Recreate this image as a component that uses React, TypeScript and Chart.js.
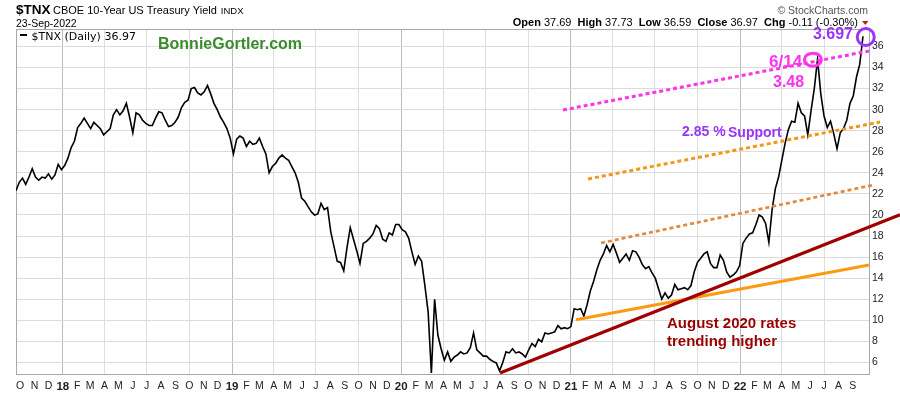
import { useEffect, useRef } from "react";
import { Chart, registerables } from "chart.js";

Chart.register(...registerables);

// ---------------- data ----------------
const seriesStart = "2017-09-22"; // weekly closes (x 10), every 7 days
const weeklyYield: number[] = [
  22.3, 23.1, 23.5, 22.9, 23.6, 24.4, 23.6, 23.3, 23.6, 23.5,
  23.9, 23.4, 23.8, 24.8, 24.3, 24.7, 25.4, 26.4, 27.0, 28.3,
  28.7, 29.2, 28.7, 28.2, 28.8, 28.5, 28.2, 27.6, 27.9, 28.2,
  29.5, 30.0, 29.5, 29.9, 30.6, 29.3, 27.8, 29.7, 29.5, 29.0,
  28.7, 28.5, 28.5, 29.2, 29.8, 29.7, 29.0, 28.4, 28.5, 28.8,
  29.3, 30.2, 30.7, 30.9, 32.0, 32.1, 31.6, 31.4, 31.7, 32.3,
  31.5, 30.6, 30.0, 29.3, 28.8, 28.2, 27.3, 25.8, 27.2, 27.5,
  27.3, 26.5, 27.0, 26.7, 26.8, 27.3, 26.5, 25.8, 24.0, 24.6,
  24.9, 25.4, 25.7, 25.4, 25.2, 24.6, 24.0, 23.1, 21.6, 21.3,
  20.8, 20.3, 20.0, 20.1, 21.1, 20.5, 20.7, 18.4, 17.0, 15.6,
  15.5, 14.7, 16.9, 18.8, 17.7, 16.6, 15.4, 17.3, 17.5, 17.8,
  18.2, 19.0, 18.7, 17.7, 17.5, 18.3, 18.1, 19.1, 19.1, 18.6,
  18.4, 17.8, 16.5, 15.3, 16.1, 15.6, 13.3, 10.8, 5.0, 12.0,
  8.6, 7.3, 6.2, 7.0, 6.1, 6.5, 6.7, 7.0, 6.8, 6.9,
  7.4, 8.8, 7.2, 6.9, 6.6, 6.6, 6.3, 6.1, 5.95, 5.2,
  6.0, 7.0, 6.9, 7.3, 6.9, 7.0, 6.8, 6.5, 7.2, 7.8,
  7.5, 8.2, 7.95, 8.8, 8.7, 8.8, 8.9, 9.5, 9.2, 9.3,
  9.2, 9.4, 11.1, 11.0, 11.1, 10.4, 11.5, 12.8, 13.7, 14.8,
  15.7, 16.3, 17.1, 16.5, 17.2, 16.4, 15.5, 15.9, 16.3, 15.7,
  16.6, 16.5, 16.0, 15.3, 14.9, 15.1, 14.5, 14.0, 13.0, 12.0,
  12.6, 12.1, 12.4, 13.4, 12.9, 13.0, 13.1, 12.9, 13.3, 14.6,
  15.5, 15.9, 16.3, 16.5, 15.4, 15.0, 15.0, 16.2, 15.7, 14.6,
  14.1, 14.3, 14.6, 15.2, 17.3, 17.8, 18.2, 18.3, 19.1, 20.0,
  19.8, 19.2, 17.4, 20.5, 22.5, 23.6, 25.2, 26.8, 28.1, 28.9,
  28.8, 30.6, 29.7, 29.4, 27.6, 29.9, 32.0, 34.8, 31.5, 29.4,
  28.3, 28.9, 27.7, 26.3, 27.8, 28.2, 29.0, 30.6, 31.3, 33.1,
  34.3, 36.97,
];

const axisStart = "2017-09-22";
const axisEnd = "2022-10-06";
const yMin = 4.9;
const yMax = 37.66;
const yTickValues = [6, 8, 10, 12, 14, 16, 18, 20, 22, 24, 26, 28, 30, 32, 34, 36];
const monthLetters = ["J", "F", "M", "A", "M", "J", "J", "A", "S", "O", "N", "D"];
const firstMonth: [number, number] = [2017, 9]; // Oct 2017 (0-based month)
const lastMonth: [number, number] = [2022, 8]; // Sep 2022

type Pt = [string, number];
const trendMagenta: Pt[] = [["2020-12-15", 29.97], ["2022-10-06", 35.57]];
const trendOrangeUpper: Pt[] = [["2021-02-07", 23.42], ["2022-10-30", 28.83]];
const trendOrangeLower: Pt[] = [["2021-03-07", 17.34], ["2022-10-15", 22.85]];
const trendDarkRed: Pt[] = [["2020-08-01", 4.99], ["2022-12-12", 20.03]];
const trendOrangeSolid: Pt[] = [["2021-01-12", 10.05], ["2022-10-06", 15.25]];
const ringPurple: Pt = ["2022-09-29", 36.9];
const ringMagenta: Pt = ["2022-06-07", 34.75];

const ohlcLabels = ["Open", "High", "Low", "Close", "Chg"];
const ohlcValues = ["37.69", "37.73", "36.59", "36.97", "-0.11 (-0.30%)"];

// ---------------- helpers ----------------
const FONT = "'Liberation Sans', Arial, sans-serif";
const DAY = 86400000;
function utc(s: string) {
  const [y, m, d] = s.split("-").map(Number);
  return Date.UTC(y, m - 1, d);
}
const origin = utc(seriesStart);
function dayOf(s: string) {
  return Math.round((utc(s) - origin) / DAY);
}
const toXY = (pts: Pt[]) => pts.map(([d, v]) => ({ x: dayOf(d), y: v }));

type MonthTick = { day: number; month: number; year: number };
const monthTicks: MonthTick[] = [];
{
  let [y, m] = firstMonth;
  while (y < lastMonth[0] || (y === lastMonth[0] && m <= lastMonth[1])) {
    monthTicks.push({ day: Math.round((Date.UTC(y, m, 1) - origin) / DAY), month: m, year: y });
    m++;
    if (m > 11) { m = 0; y++; }
  }
}
const tickByDay = new Map<number, MonthTick>(monthTicks.map((t) => [t.day, t]));

function textAt(ctx: CanvasRenderingContext2D, s: string, x: number, y: number, font: string, color: string, align: CanvasTextAlign = "left") {
  ctx.font = font;
  ctx.fillStyle = color;
  ctx.textAlign = align;
  ctx.textBaseline = "alphabetic";
  ctx.fillText(s, x, y);
}

const framePlugin = {
  id: "frame",
  beforeDatasetsDraw(chart: any) {
    const { ctx, chartArea: a } = chart;
    ctx.save();
    ctx.strokeStyle = "#a8a8a8";
    ctx.lineWidth = 1;
    ctx.strokeRect(Math.round(a.left) + 0.5, Math.round(a.top) + 0.5, Math.round(a.right - a.left), Math.round(a.bottom - a.top));
    ctx.restore();
  },
  afterDraw(chart: any) {
    const { ctx } = chart;
    const xs = chart.scales.x;
    const ys = chart.scales.y;
    ctx.save();
    // header
    textAt(ctx, "$TNX", 16, 14, `bold 13.5px ${FONT}`, "#000");
    const title = "CBOE 10-Year US Treasury Yield";
    const tFont = `11px ${FONT}`;
    textAt(ctx, title, 53, 13.5, tFont, "#000");
    ctx.font = tFont;
    const tw = ctx.measureText(title).width;
    textAt(ctx, "INDX", 53 + tw + 4, 13.5, `9.5px ${FONT}`, "#000");
    textAt(ctx, "23-Sep-2022", 16, 26.5, `10.5px ${FONT}`, "#000");
    textAt(ctx, "\u00a9 StockCharts.com", 868, 13.5, `10.5px ${FONT}`, "#555", "right");
    // OHLC line
    const segs: [string, boolean][] = [];
    ohlcLabels.forEach((l, i) => {
      segs.push([l, true]);
      segs.push([" " + ohlcValues[i] + (i < ohlcLabels.length - 1 ? "  " : ""), false]);
    });
    let total = 0;
    for (const [s, b] of segs) {
      ctx.font = `${b ? "bold " : ""}11px ${FONT}`;
      total += ctx.measureText(s).width;
    }
    let cx = 858 - total;
    for (const [s, b] of segs) {
      const f = `${b ? "bold " : ""}11px ${FONT}`;
      textAt(ctx, s, cx, 26, f, "#000");
      ctx.font = f;
      cx += ctx.measureText(s).width;
    }
    ctx.fillStyle = "#b22222";
    ctx.beginPath();
    ctx.moveTo(862, 21);
    ctx.lineTo(868.5, 21);
    ctx.lineTo(865.25, 25);
    ctx.closePath();
    ctx.fill();
    // legend
    ctx.fillStyle = "#000";
    ctx.fillRect(20, 34, 7, 2);
    textAt(ctx, "$TNX (Daily) 36.97", 31.5, 39.5, `11px 'DejaVu Sans', sans-serif`, "#000");
    // annotations
    textAt(ctx, "BonnieGortler.com", 158, 49, `bold 16px ${FONT}`, "#3a8a2e");
    textAt(ctx, "3.697", 853, 39, `bold 16px ${FONT}`, "#9933ff", "right");
    textAt(ctx, "6/14", 769, 66.5, `bold 17px ${FONT}`, "#ff33ee");
    textAt(ctx, "3.48", 773, 86.5, `bold 16px ${FONT}`, "#ff33ee");
    textAt(ctx, "2.85 %", 682, 136, `bold 14px ${FONT}`, "#9933ff");
    textAt(ctx, "Support", 728, 137, `bold 14px ${FONT}`, "#9933ff");
    textAt(ctx, "August 2020 rates", 667, 327.5, `bold 15px ${FONT}`, "#990000");
    textAt(ctx, "trending higher", 667, 345.5, `bold 15px ${FONT}`, "#990000");
    // rings
    ctx.lineWidth = 3;
    ctx.strokeStyle = "#9933ff";
    ctx.beginPath();
    ctx.ellipse(xs.getPixelForValue(dayOf(ringPurple[0])), ys.getPixelForValue(ringPurple[1]), 8.5, 8.5, 0, 0, Math.PI * 2);
    ctx.stroke();
    ctx.strokeStyle = "#ff33ee";
    ctx.beginPath();
    ctx.ellipse(xs.getPixelForValue(dayOf(ringMagenta[0])), ys.getPixelForValue(ringMagenta[1]), 8.5, 6.5, 0, 0, Math.PI * 2);
    ctx.stroke();
    ctx.restore();
  },
};

function trend(data: Pt[], color: string, width: number, dash: number[] = []) {
  return {
    type: "line" as const,
    data: toXY(data),
    borderColor: color,
    borderWidth: width,
    borderDash: dash,
    borderCapStyle: "butt" as const,
    pointRadius: 0,
    clip: false as any,
    order: 1,
  };
}

export default function App() {
  const ref = useRef<HTMLCanvasElement | null>(null);
  useEffect(() => {
    if (!ref.current) return;
    const priceData = weeklyYield.map((v, i) => ({ x: i * 7, y: v }));
    const chart = new Chart(ref.current, {
      type: "line",
      data: {
        datasets: [
          trend(trendMagenta, "#ff33ee", 3, [4, 3]),
          trend(trendOrangeUpper, "#f5951a", 3, [4, 3]),
          trend(trendOrangeLower, "#e0893f", 2.7, [4, 3]),
          trend(trendDarkRed, "#a00000", 3.3),
          trend(trendOrangeSolid, "#ff9a10", 3),
          {
            type: "line",
            data: priceData,
            borderColor: "#000",
            borderWidth: 1.6,
            pointRadius: 0,
            tension: 0,
            order: 10,
          } as any,
        ],
      },
      options: {
        animation: false,
        responsive: false,
        parsing: true,
        layout: { padding: { left: 16, top: 29, right: 0, bottom: 0 } },
        plugins: { legend: { display: false }, tooltip: { enabled: false } },
        scales: {
          x: {
            type: "linear",
            min: dayOf(axisStart),
            max: dayOf(axisEnd),
            afterBuildTicks: (s: any) => {
              s.ticks = monthTicks.map((t) => ({ value: t.day }));
            },
            afterFit: (s: any) => {
              s.height = 22;
            },
            ticks: {
              autoSkip: false,
              maxRotation: 0,
              minRotation: 0,
              padding: 6,
              color: "#222",
              callback: (v: any) => {
                const t = tickByDay.get(v as number);
                if (!t) return "";
                return t.month === 0 ? String(t.year % 100).padStart(2, "0") : monthLetters[t.month];
              },
              font: (c: any) => {
                const t = tickByDay.get(c.tick?.value);
                const yr = t && t.month === 0;
                return { family: FONT, size: yr ? 11.5 : 10.5, weight: yr ? "bold" : "normal" } as any;
              },
            },
            grid: {
              drawTicks: false,
              color: (c: any) => {
                const t = tickByDay.get(c.tick?.value);
                if (!t || c.index === 0) return "rgba(0,0,0,0)";
                if (t.month === 0) return "#bdbdbd";
                if (t.month % 3 === 0) return "#dedede";
                return "rgba(0,0,0,0)";
              },
            },
            border: { display: false },
          },
          y: {
            type: "linear",
            position: "right",
            min: yMin,
            max: yMax,
            afterBuildTicks: (s: any) => {
              s.ticks = yTickValues.map((v) => ({ value: v }));
            },
            afterFit: (s: any) => {
              s.width = 31;
            },
            ticks: {
              padding: 3,
              color: "#222",
              font: { family: FONT, size: 10.5 },
              callback: (v: any) => String(v),
            },
            grid: { drawTicks: false, color: "#dcdcdc" },
            border: { display: false },
          },
        },
      } as any,
      plugins: [framePlugin],
    });
    return () => chart.destroy();
  }, []);

  return (
    <div style={{ position: "fixed", left: 0, top: 0, width: 900, height: 396, background: "#fff" }}>
      <canvas ref={ref} width={900} height={396} style={{ width: 900, height: 396, display: "block" }} />
    </div>
  );
}
